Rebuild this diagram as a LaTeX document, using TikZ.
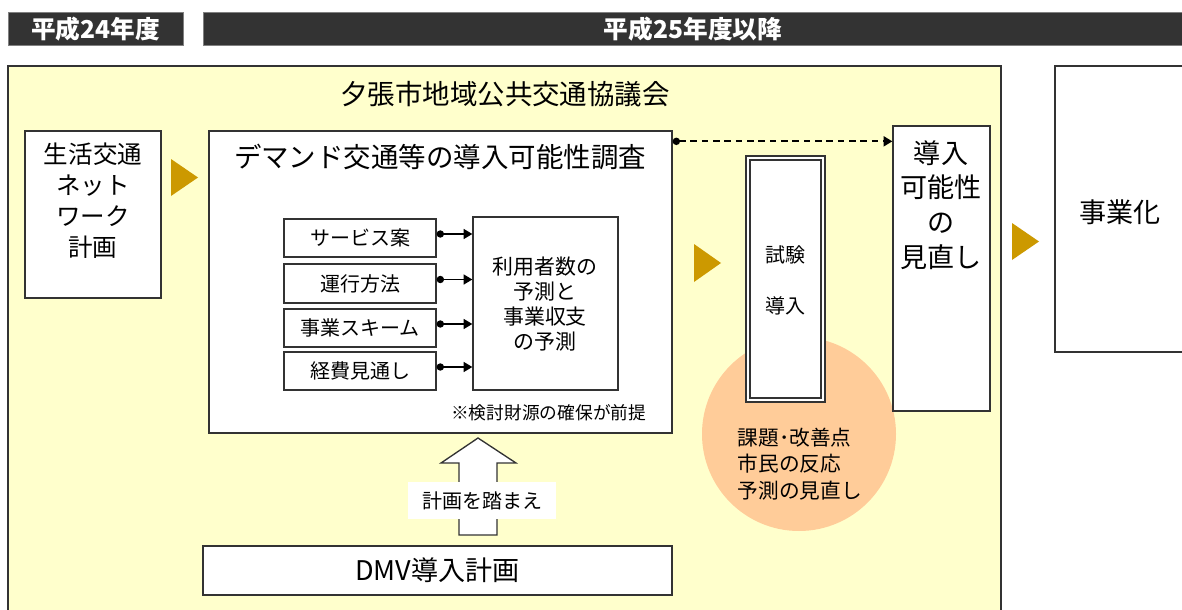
\documentclass[tikz,border=0pt]{standalone}
\usepackage{fontspec}
\setmainfont{Noto Sans CJK JP}
\usetikzlibrary{arrows.meta,fit,calc}
\definecolor{frameyellow}{HTML}{FFFFCC}
\definecolor{gold}{HTML}{CC9900}
\definecolor{peach}{HTML}{FFCC99}
\definecolor{hdr}{HTML}{333333}
\definecolor{edge}{HTML}{333333}
\begin{document}
\begin{tikzpicture}[x=0.75pt,y=-0.75pt,
  box/.style={draw=edge, line width=1pt, fill=white, inner sep=0pt},
  hdrbox/.style={draw=gray, fill=hdr, inner sep=0pt, line width=0.6pt},
  hdrtext/.style={text=white, font={\fontsize{18.5}{20}\selectfont\bfseries}},
  goldtri/.style={fill=gold},
  big/.style={font={\fontsize{20.6}{26}\selectfont}},
  small/.style={font={\fontsize{15}{18}\selectfont}},
  link/.style={draw=black, line width=1.1pt, {Circle[length=5.5pt]}-{Triangle[length=6.5pt,width=7.5pt]}},
]
\useasboundingbox (0,0) rectangle (1182,610);
\fill[white] (0,0) rectangle (1182,610);

% headers
\node[hdrbox, fit={(8,12) (183,45)}] (h1) {};
\node[hdrtext] (h1t) at (95.5,29) {平成24年度};
\node[hdrbox, fit={(203,12) (1190,45)}] (h2) {};
\node[hdrtext] (h2t) at (693,29) {平成25年度以降};

% yellow frame
\node[draw=edge, fill=frameyellow, line width=0.8pt, inner sep=0pt, fit={(8,66) (1001,620)}] (frame) {};
\node[big] (ftitle) at (505,94) {夕張市地域公共交通協議会};

% left box
\node[box, fit={(25,131) (161,298)}] (net) {};
\node[align=center, font={\fontsize{18.4}{23.3}\selectfont}] (nett) at (93,201) {生活交通\\ネット\\ワーク\\計画};

\fill[goldtri] (171,159) -- (198,177.5) -- (171,196) -- cycle;

% demand box
\node[box, fit={(209,131) (672,433)}] (dem) {};
\node[big] (demt) at (440,157) {デマンド交通等の導入可能性調査};

\node[box, fit={(284,219) (436,257)}] (s1) {};
\node[small] at (s1.center) {サービス案};
\node[box, fit={(284,264) (436,303)}] (s2) {};
\node[small] at (s2.center) {運行方法};
\node[box, fit={(284,309) (436,347)}] (s3) {};
\node[small] at (s3.center) {事業スキーム};
\node[box, fit={(284,352) (436,390)}] (s4) {};
\node[small] at (s4.center) {経費見通し};

\node[box, fit={(473,217) (618,390)}] (pred) {};
\node[align=center, font={\fontsize{15.7}{18.8}\selectfont}] (predt) at (545,304) {利用者数の\\予測と\\事業収支\\の予測};

\foreach \s in {s1,s2,s3,s4}{
  \coordinate (\s a) at ($(\s.east)+(0,-4)$);
  \draw[link] (\s a) -- (\s a -| pred.west);
}

\node[anchor=east, font={\fontsize{13.3}{16}\selectfont}] (note) at (651,413) {※検討財源の確保が前提};

% trial
\node[circle, fill=peach, minimum size=145.5pt, inner sep=0pt] (circ) at (799,434) {};
\node[box, double=white, double distance=1.8pt, line width=1pt, fit={(748,158) (823,400)}] (trial) {};
\node[align=center, font={\fontsize{15}{38}\selectfont}] (trialt) at (785.5,280.5) {試験\\導入};
\node[anchor=west, align=left, font={\fontsize{15.5}{20}\selectfont}] (circt) at (733,464) {課題･改善点\\市民の反応\\予測の見直し};

\fill[goldtri] (694,244) -- (721,263) -- (694,282) -- cycle;

% review
\node[box, fit={(893,126) (990,411)}] (rev) {};
\node[align=center, font={\fontsize{20.3}{26}\selectfont}] (revt) at (941,205) {導入\\可能性\\の\\見直し};

\coordinate (ds) at ($(dem.north east)+(0,11)$);
\draw[draw=black, line width=1.3pt, dash pattern=on 5pt off 3.5pt, {Circle[length=5.5pt]}-{Triangle[length=6.5pt,width=7.5pt]}]
  (ds) -- (ds -| rev.west);

\fill[goldtri] (1012,223) -- (1039,241.5) -- (1012,260) -- cycle;

% business
\node[box, fit={(1055,66) (1195,352)}] (biz) {};
\node[font={\fontsize{20.3}{24}\selectfont}] (bizt) at (1120,212) {事業化};

% DMV
\node[box, fit={(203,546) (672,595)}] (dmv) {};
\node[font={\fontsize{20.3}{24}\selectfont}] (dmvt) at (dmv.center) {DMV導入計画};

\draw[fill=white, draw=edge, line width=1pt] (459,535) -- (459,463) -- (441,463) -- (478,438) -- (516,463) -- (497,463) -- (497,535) -- cycle;
\node[fill=white, inner sep=0pt, fit={(408,482) (556,519)}] (lblbox) {};
\node[small] (lbl) at (lblbox.center) {計画を踏まえ};
\end{tikzpicture}
\end{document}
